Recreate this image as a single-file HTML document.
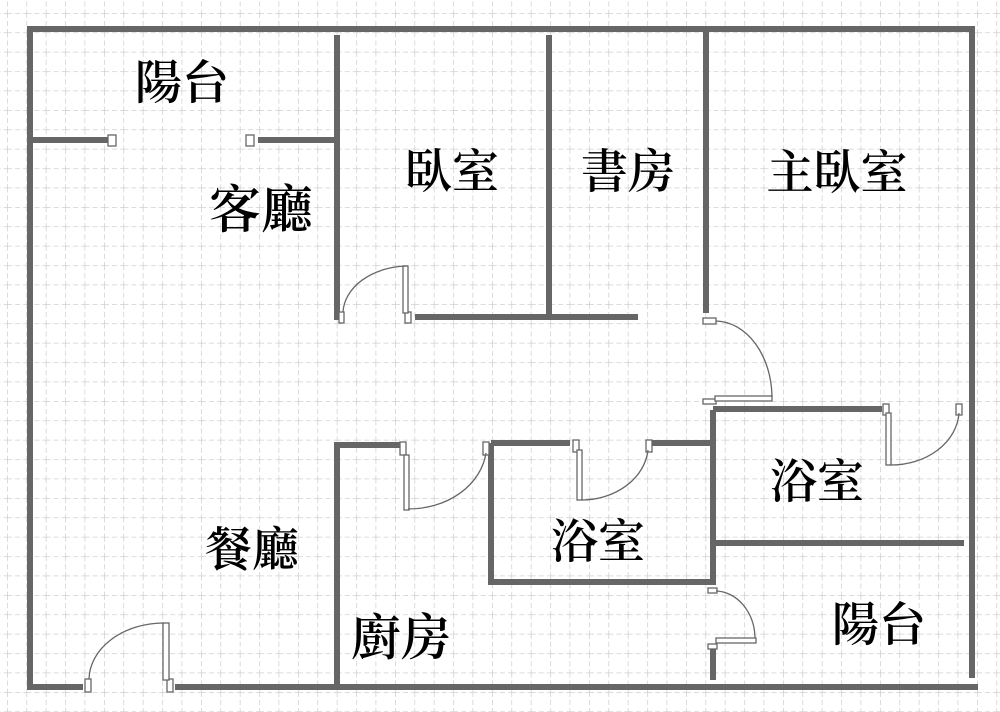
<!DOCTYPE html>
<html><head><meta charset="utf-8"><style>
html,body{margin:0;padding:0;background:#fff;}
svg{display:block;}
text{font-family:"Noto Serif CJK SC","Liberation Serif",serif;font-weight:600;fill:#000;text-anchor:middle;}
</style></head><body>
<svg width="1000" height="712" viewBox="0 0 1000 712" xmlns="http://www.w3.org/2000/svg">
<defs>
<pattern id="g" x="7" y="13" width="19.4" height="19.4" patternUnits="userSpaceOnUse">
<path d="M0 0H19.4M0 0V19.4" stroke="#c8c8c8" stroke-width="1.3" stroke-dasharray="5 3" fill="none"/>
</pattern>
</defs>
<rect width="1000" height="712" fill="#fff"/>
<rect width="1000" height="712" fill="url(#g)"/>
<g stroke="#666" stroke-width="6" fill="none" stroke-linecap="butt">
<path d="M30 29H975M30 26V690M972 29V678M27 687H83M175 687H978"/>
<path d="M30 140H110M258 140H335"/>
<path d="M337 35V320M337 442V687"/>
<path d="M549 35V317M415 317H638"/>
<path d="M706 30V313"/>
<path d="M337 445H400M491 443H570M652 443H713"/>
<path d="M491 443V585M488 582H716"/>
<path d="M713 410V583M713 648V680"/>
<path d="M713 409H882M713 543H964"/>
</g>
<g stroke="#666" stroke-width="1.3" fill="#fff">
<rect x="108" y="135" width="8" height="11"/><rect x="246" y="135" width="8" height="11"/>
<rect x="339" y="312" width="5" height="11"/><rect x="405" y="312" width="6" height="11"/>
<rect x="403" y="266" width="5" height="47"/>
<path d="M343 312 A66 48 0 0 1 406 266" fill="none"/>
<rect x="703" y="318" width="13" height="6"/><rect x="703" y="399" width="13" height="5"/>
<rect x="715" y="396" width="57" height="5"/>
<path d="M716 321 A57 77 0 0 1 772 397" fill="none"/>
<rect x="400" y="442" width="6" height="13"/><rect x="404" y="455" width="5" height="55"/>
<rect x="483" y="442" width="6" height="13"/>
<path d="M408 509 A78 64 0 0 0 486 453" fill="none"/>
<rect x="573" y="440" width="6" height="12"/><rect x="577" y="450" width="5" height="50"/>
<rect x="646" y="440" width="6" height="12"/>
<path d="M581 500 A67 55 0 0 0 648 450" fill="none"/>
<rect x="883" y="404" width="6" height="11"/><rect x="886" y="413" width="5" height="52"/>
<rect x="956" y="404" width="6" height="11"/>
<path d="M890 465 A68 55 0 0 0 959 413" fill="none"/>
<rect x="708" y="588" width="9" height="5"/><rect x="708" y="644" width="9" height="5"/>
<rect x="716" y="638" width="40" height="5"/>
<path d="M716 591 A40 48 0 0 1 755 638" fill="none"/>
<rect x="85" y="679" width="6" height="13"/><rect x="167" y="679" width="6" height="13"/>
<rect x="163" y="623" width="6" height="57"/>
<path d="M89 679 A75 57 0 0 1 164 623" fill="none"/>
</g>
<g font-size="47">
<text x="182" y="99">陽台</text>
<text x="261" y="228" font-size="52">客廳</text>
<text x="452" y="188">臥室</text>
<text x="628" y="188">書房</text>
<text x="837" y="189">主臥室</text>
<text x="817" y="498">浴室</text>
<text x="598" y="558">浴室</text>
<text x="252" y="566">餐廳</text>
<text x="401" y="655" font-size="50">廚房</text>
<text x="879" y="641">陽台</text>
</g>
</svg>
</body></html>
